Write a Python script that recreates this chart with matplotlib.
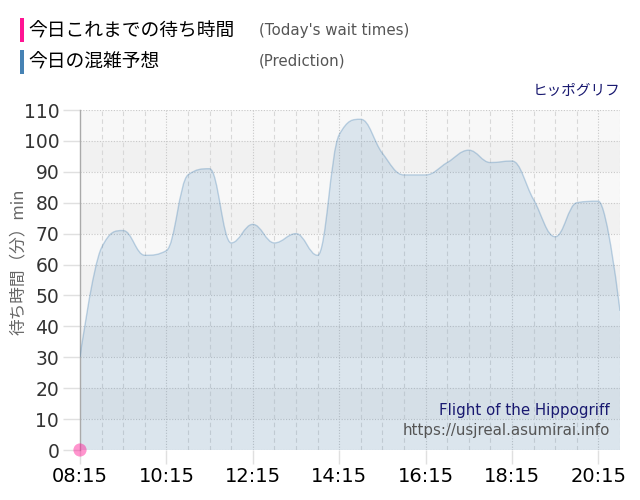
import matplotlib
matplotlib.use("Agg")
import matplotlib.pyplot as plt
from matplotlib.path import Path
from matplotlib.patches import PathPatch, Rectangle
import numpy as np

plt.rcParams['font.family'] = ['DejaVu Sans']
JP = ['Noto Sans CJK JP', 'DejaVu Sans']

# ---- data ----
pred_times = ["08:15", "08:45", "09:15", "09:45", "10:15", "10:45", "11:15", "11:45",
              "12:15", "12:45", "13:15", "13:45", "14:15", "14:45", "15:15", "15:45",
              "16:15", "16:45", "17:15", "17:45", "18:15", "18:45", "19:15", "19:45",
              "20:15", "20:45"]
pred_values = [30, 65.5, 71, 63, 64.5, 89, 91, 67,
               73, 67, 70, 63, 102, 107, 96, 89,
               89, 93, 97, 93, 93.5, 81, 69, 80,
               80.5, 45]
wait_times = ["08:15"]
wait_values = [0]
xtick_labels = ["08:15", "10:15", "12:15", "14:15", "16:15", "18:15", "20:15"]
yticks = [0, 10, 20, 30, 40, 50, 60, 70, 80, 90, 100, 110]

def to_min(t):
    h, m = t.split(":")
    return int(h) * 60 + int(m) - (8 * 60 + 15)

px = np.array([to_min(t) for t in pred_times], dtype=float)
py = np.array(pred_values, dtype=float)

def spline_path(xs, ys, smoothing=1.5):
    denom = smoothing + 1
    n = len(xs)
    lc = [(xs[i], ys[i]) for i in range(n)]
    rc = [(xs[i], ys[i]) for i in range(n)]
    for i in range(1, n - 1):
        lx, ly = xs[i - 1], ys[i - 1]
        nx, ny = xs[i + 1], ys[i + 1]
        x, y = xs[i], ys[i]
        lcx = (smoothing * x + lx) / denom
        lcy = (smoothing * y + ly) / denom
        rcx = (smoothing * x + nx) / denom
        rcy = (smoothing * y + ny) / denom
        if rcx != lcx:
            corr = ((rcy - lcy) * (rcx - x)) / (rcx - lcx) + y - rcy
            lcy += corr
            rcy += corr
        if lcy > ly and lcy > y:
            lcy = max(ly, y); rcy = 2 * y - lcy
        elif lcy < ly and lcy < y:
            lcy = min(ly, y); rcy = 2 * y - lcy
        if rcy > ny and rcy > y:
            rcy = max(ny, y); lcy = 2 * y - rcy
        elif rcy < ny and rcy < y:
            rcy = min(ny, y); lcy = 2 * y - rcy
        lc[i] = (lcx, lcy)
        rc[i] = (rcx, rcy)
    verts = [(xs[0], ys[0])]
    codes = [Path.MOVETO]
    for i in range(1, n):
        verts += [rc[i - 1], lc[i], (xs[i], ys[i])]
        codes += [Path.CURVE4] * 3
    return verts, codes

fig = plt.figure(figsize=(6.4, 5.0), dpi=100)
ax = fig.add_axes([80 / 640, 50 / 500, 540 / 640, 340 / 500])
ax.set_xlim(0, 750)
ax.set_ylim(0, 110)

# background bands
for lo in range(0, 110, 10):
    col = '#f8f8f8' if (lo // 10) % 2 == 0 else '#f1f1f1'
    ax.add_patch(Rectangle((0, lo), 750, 10, facecolor=col, edgecolor='none', zorder=0))

# grid
for y in yticks:
    ax.axhline(y, color='#c8c8c8', lw=0.8, ls=(0, (1, 1.5)), zorder=1)
for m in range(30, 751, 30):
    if m % 120 == 0:
        ax.axvline(m, color='#c8c8c8', lw=0.8, ls=(0, (1, 1.5)), zorder=1)
    else:
        ax.axvline(m, color='#d8d8d8', lw=0.8, ls=(0, (4, 3)), zorder=1)

verts, codes = spline_path(px, py)
fill_verts = verts + [(px[-1], 0), (px[0], 0), (px[0], py[0])]
fill_codes = codes + [Path.LINETO, Path.LINETO, Path.CLOSEPOLY]
ax.add_patch(PathPatch(Path(fill_verts, fill_codes), facecolor='#4682b4', alpha=0.16,
                       edgecolor='none', zorder=2))
ax.add_patch(PathPatch(Path(verts, codes), facecolor='none', edgecolor='#4682b4',
                       alpha=0.32, lw=1.0, zorder=3))

wx = [to_min(t) for t in wait_times]
ax.scatter(wx, wait_values, s=90, color='#ff1493', alpha=0.45, edgecolors='none',
           zorder=5, clip_on=False)

for s in ['top', 'right', 'bottom']:
    ax.spines[s].set_visible(False)
ax.spines['left'].set_color('#aaaaaa')
ax.spines['left'].set_linewidth(1.0)

ax.set_yticks(yticks)
ax.set_yticklabels([str(v) for v in yticks], fontsize=13.5, color='#333333')
ax.set_xticks([to_min(t) for t in xtick_labels])
ax.set_xticklabels(xtick_labels, fontsize=14, color='#000000')
ax.tick_params(axis='y', length=12, color='#e0e0e0', width=1, pad=3)
ax.tick_params(axis='x', length=10, color='#e0e0e0', width=1, pad=2)
fig.text(18 / 640, 1 - 262 / 500, '待ち時間（分）min', family=JP, fontsize=12,
         color='#666666', rotation=90, va='center', ha='center')

# legend
fig.patches.append(Rectangle((20 / 640, 1 - 42 / 500), 4 / 640, 24 / 500, transform=fig.transFigure,
                             facecolor='#ff1493', edgecolor='none'))
fig.patches.append(Rectangle((20 / 640, 1 - 74 / 500), 4 / 640, 24 / 500, transform=fig.transFigure,
                             facecolor='#4682b4', edgecolor='none'))
fig.text(28 / 640, 1 - 31 / 500, '今日これまでの待ち時間', family=JP, fontsize=13.5,
         color='#000000', va='center', ha='left')
fig.text(28 / 640, 1 - 62 / 500, '今日の混雑予想', family=JP, fontsize=13.5,
         color='#000000', va='center', ha='left')
fig.text(259 / 640, 1 - 31 / 500, "(Today's wait times)", fontsize=10.8, color='#555555',
         va='center', ha='left')
fig.text(259 / 640, 1 - 61 / 500, "(Prediction)", fontsize=10.8, color='#555555',
         va='center', ha='left')
fig.text(620 / 640, 1 - 91 / 500, 'ヒッポグリフ', family=JP, fontsize=10.5, color='#191970',
         va='center', ha='right')
fig.text(610 / 640, 1 - 411 / 500, 'Flight of the Hippogriff', fontsize=10.8, color='#191970',
         va='center', ha='right')
fig.text(610 / 640, 1 - 431 / 500, 'https://usjreal.asumirai.info', fontsize=10.8,
         color='#555555', va='center', ha='right')

fig.savefig('out.png', dpi=100)
